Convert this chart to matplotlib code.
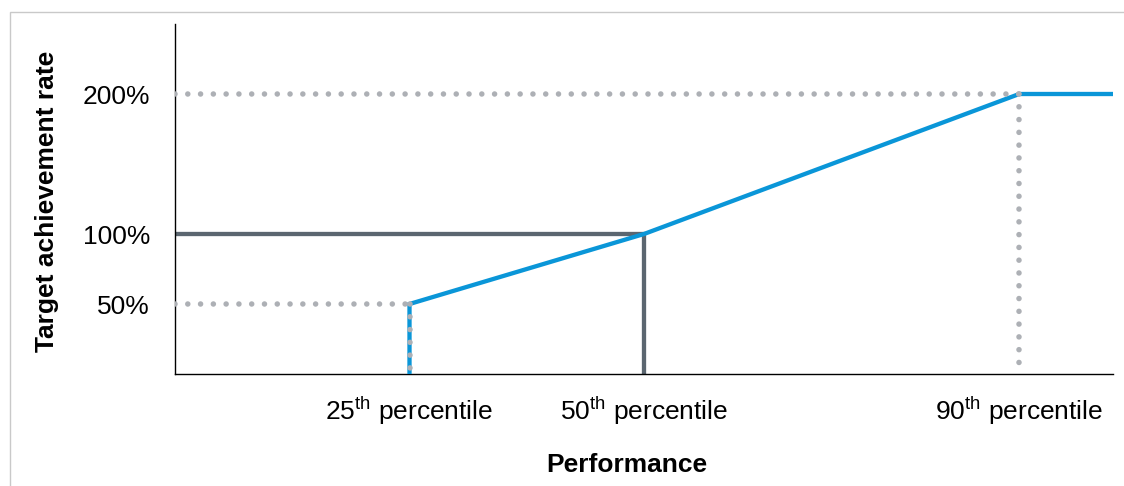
import matplotlib
matplotlib.use("Agg")
import matplotlib.pyplot as plt
from matplotlib.patches import Rectangle

plt.rcParams["font.family"] = ["Liberation Sans", "DejaVu Sans"]
plt.rcParams["mathtext.fontset"] = "custom"
plt.rcParams["mathtext.rm"] = "Liberation Sans"
plt.rcParams["mathtext.it"] = "Liberation Sans:italic"
plt.rcParams["mathtext.bf"] = "Liberation Sans:bold"

# Vesting curve: performance percentile -> target achievement rate (%)
curve_pct = [25, 25, 50, 90, 100]
curve_rate = [0, 50, 100, 200, 200]

# Target (median) reference lines
target_pct = [0, 50, 50]
target_rate = [100, 100, 0]

# Guide points (percentile, rate) connected by dotted lines to the axes
guide_pct = [25, 90]
guide_rate = [50, 200]

y_ticks = [50, 100, 200]
y_labels = ["50%", "100%", "200%"]
x_ticks = [25, 50, 90]
x_labels = ["25$^{\\rm th}$ percentile", "50$^{\\rm th}$ percentile",
            "90$^{\\rm th}$ percentile"]

BLUE = "#0a96d8"
DARK = "#5b6670"
DOT = "#adb0b5"
FS = 19

W, H = 1124, 486
fig = plt.figure(figsize=(W / 100, H / 100), dpi=100)
ax = fig.add_axes([175 / W, 1 - 374 / H, (1113 - 175) / W, (374 - 24) / H])
ax.set_xlim(0, 100)
ax.set_ylim(0, 250)

# outer frame
fig.patches.append(Rectangle((10 / W, -0.1), 1.2, 1 - 12 / H + 0.1,
                             transform=fig.transFigure, fill=False,
                             edgecolor="#c9c9c9", linewidth=1.0))

ax.plot(target_pct, target_rate, color=DARK, lw=3.1,
        solid_capstyle="butt", solid_joinstyle="miter", zorder=2)
ax.plot(curve_pct, curve_rate, color=BLUE, lw=3.1,
        solid_capstyle="butt", solid_joinstyle="miter", zorder=3)

dot_style = dict(color=DOT, lw=4.0, linestyle=(0, (0.001, 2.3)),
                 dash_capstyle="round", zorder=4)
for p, r in zip(guide_pct, guide_rate):
    ax.plot([0, p], [r, r], **dot_style)
    ax.plot([p, p], [r, 0], **dot_style)

for side in ("top", "right"):
    ax.spines[side].set_visible(False)
for side in ("left", "bottom"):
    ax.spines[side].set_linewidth(1.0)
    ax.spines[side].set_color("black")

ax.set_yticks(y_ticks, y_labels)
ax.set_xticks(x_ticks, x_labels)
ax.tick_params(axis="both", length=0, labelsize=FS)
ax.tick_params(axis="y", pad=18)
ax.tick_params(axis="x", pad=15)

fig.text(627 / W, 1 - 465 / H, "Performance", fontsize=FS,
         fontweight="bold", ha="center", va="center")
fig.text(47 / W, 1 - 201 / H, "Target achievement rate", fontsize=FS,
         fontweight="bold", ha="center", va="center", rotation=90)

fig.savefig("out.png", dpi=100)
